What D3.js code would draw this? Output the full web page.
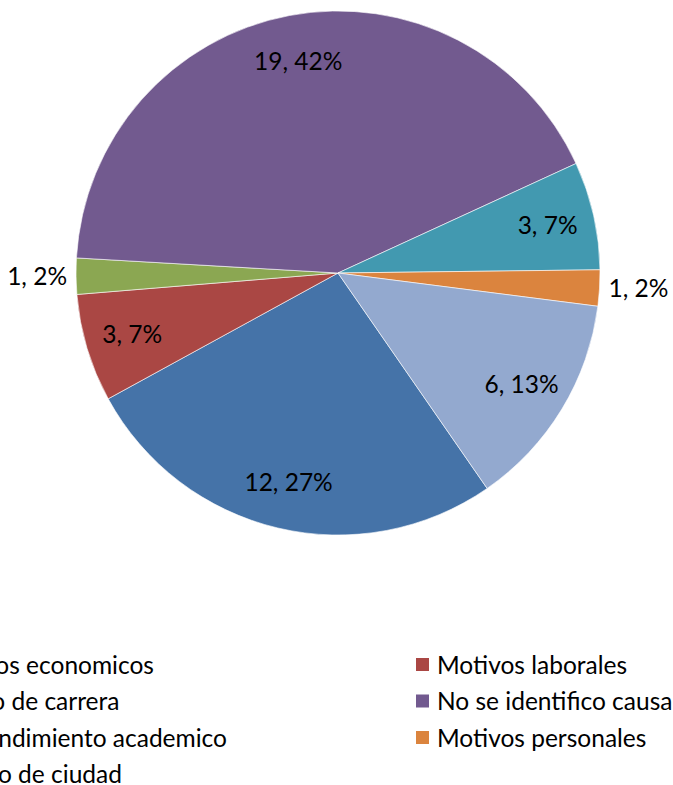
<!DOCTYPE html>
<html>
<head>
<meta charset="utf-8">
<script src="https://cdn.jsdelivr.net/npm/d3@7"></script>
<style>
  body { margin: 0; background: #fff; }
  svg text { font-family: Lato, "Open Sans", sans-serif; fill: #000; }
</style>
</head>
<body>
<div id="chart"></div>
<script>
    var svgWidth = 673;
    var svgHeight = 785;

    // series, in the order of the sheet
    var causes = ["Recursos economicos", "Motivos laborales", "Cambio de carrera",
      "No se identifico causa", "Bajo rendimiento academico", "Motivos personales",
      "Traslado de ciudad"];
    var counts = [12, 3, 1, 19, 3, 1, 6];
    var percentLabels = ["27%", "7%", "2%", "42%", "7%", "2%", "13%"];
    var colors = ["#4573a8", "#aa4744", "#8ba752", "#725a8f", "#4299b0", "#db843e", "#93a9cf"];

    var cx = 338, cy = 273, radius = 262;
    var firstAngle = 145.3 * Math.PI / 180;
    var fontSize = 24.5;

    var svg = d3.select("#chart")
      .append("svg")
      .attr("width", svgWidth)
      .attr("height", svgHeight);

    var data = causes.map(function(c, i) {
      return { cause: c, count: counts[i], pct: percentLabels[i], color: colors[i] };
    });

    var pie = d3.pie()
      .sort(null)
      .value(d => d.count)
      .startAngle(firstAngle)
      .endAngle(firstAngle + 2 * Math.PI);

    var arc = d3.arc().innerRadius(0).outerRadius(radius);
    var labelArc = d3.arc().innerRadius(radius * 0.82).outerRadius(radius * 0.82);
    var outerArc = d3.arc().innerRadius(radius + 9).outerRadius(radius + 9);

    var pieGroup = svg.append("g")
      .attr("transform", `translate(${cx}, ${cy})`);

    var arcs = pie(data);
    var total = d3.sum(counts);

    pieGroup.selectAll("path")
      .data(arcs)
      .enter()
      .append("path")
      .attr("d", arc)
      .attr("fill", d => d.data.color)
      .attr("stroke", "#fff")
      .attr("stroke-width", 0.6);

    // data labels: small slices go outside
    pieGroup.selectAll("text")
      .data(arcs)
      .enter()
      .append("text")
      .attr("font-size", fontSize)
      .attr("dy", "0.35em")
      .attr("transform", function(d) {
        var small = d.data.count / total < 0.05;
        var p = small ? outerArc.centroid(d) : labelArc.centroid(d);
        return `translate(${p[0]}, ${p[1]})`;
      })
      .attr("text-anchor", function(d) {
        var small = d.data.count / total < 0.05;
        if (!small) return "middle";
        var mid = (d.startAngle + d.endAngle) / 2;
        return Math.sin(mid) > 0 ? "start" : "end";
      })
      .text(d => d.data.count + ", " + d.data.pct);

    // legend, two columns filled row by row
    var legendX = d3.scaleOrdinal().domain([0, 1]).range([-98, 416]);
    var legendY = d3.scaleLinear().domain([0, 1]).range([665, 701.5]);

    var legend = svg.selectAll(".legend")
      .data(data)
      .enter()
      .append("g")
      .attr("class", "legend")
      .attr("transform", (d, i) => `translate(${legendX(i % 2)}, ${legendY(Math.floor(i / 2))})`);

    legend.append("rect")
      .attr("x", 0)
      .attr("y", -7)
      .attr("width", 13)
      .attr("height", 13)
      .attr("fill", d => d.color);

    legend.append("text")
      .attr("x", 21)
      .attr("dy", "0.35em")
      .attr("font-size", fontSize)
      .text(d => d.cause);
</script>
</body>
</html>
